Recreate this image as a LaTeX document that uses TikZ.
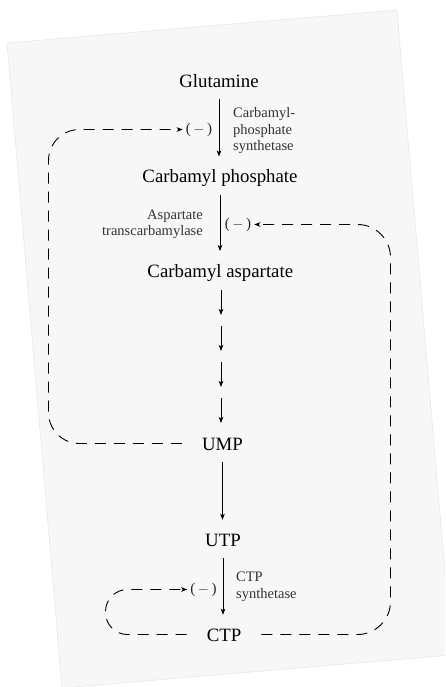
\documentclass[tikz,border=0pt]{standalone}
\usepackage{fontspec}
\setmainfont{Liberation Serif}
\usetikzlibrary{arrows.meta}
\tikzset{
  page/.style={fill=black!3, draw=black!10, line width=0.5pt},
  cmpd/.style={inner sep=0pt, text height=13pt, text depth=0pt, font=\fontsize{18.8}{20}\selectfont},
  enz/.style={inner sep=0pt, black!80, font=\fontsize{14.5}{16.5}\selectfont},
  inh/.style={inner ysep=1pt, inner xsep=3pt, black!85, font=\fontsize{15}{16}\selectfont},
  tip/.style={-{Stealth[length=6pt, width=4.5pt, inset=1.5pt]}},
  reac/.style={tip, line width=0.9pt, shorten <=12pt, shorten >=13pt},
  fb/.style={tip, line width=0.9pt, dash pattern=on 11pt off 8pt, rounded corners=31pt, shorten <=20pt},
}

\begin{document}
\begin{tikzpicture}[x=1pt, y=-1pt]
\useasboundingbox (0,0) rectangle (445,687);
\clip (0,0) rectangle (445,687);
\draw[page] (7,43) -- (397,10) -- (452,655) -- (62,688) -- cycle;

\node[cmpd, anchor=base] (glu) at (219,87.3) {Glutamine};
\node[cmpd, anchor=base] (cp)  at (220,182.7) {Carbamyl phosphate};
\node[cmpd, anchor=base] (ca)  at (220.3,277.3) {Carbamyl aspartate};
\node[cmpd, anchor=base] (ump) at (222.5,450) {UMP};
\node[cmpd, anchor=base] (utp) at (223,546) {UTP};
\node[cmpd, anchor=base] (ctp) at (224,641) {CTP};

\node[enz, anchor=west, align=left]  (cps) at (233,131) {Carbamyl-\\phosphate\\synthetase};
\node[enz, anchor=east, align=right] (atc) at (203,224.5) {Aspartate\\transcarbamylase};
\node[enz, anchor=west, align=left]  (ctps) at (236,587) {CTP\\synthetase};

\node[inh] (inh1) at (199,129.5) {(\,$-$\,)};
\node[inh] (inh2) at (238,224.5) {(\,$-$\,)};
\node[inh] (inh3) at (203.5,589.5) {(\,$-$\,)};

\draw[reac] (glu.south) -- (glu.south |- cp.north);
\draw[reac] (cp.south) -- (cp.south |- ca.north);
\foreach \i in {0,...,4} \coordinate (t\i) at (221,290+36*\i);
\foreach \i/\j in {0/1,1/2,2/3,3/4} \draw[reac, shorten <=0pt, shorten >=11pt] (t\i) -- (t\j);
\draw[reac] (ump.south) -- (ump.south |- utp.north);
\draw[reac] (utp.south) -- (utp.south |- ctp.north);

\coordinate (lft) at (48.5,0);
\coordinate (rgt) at (390.5,0);
\coordinate (lp) at (105.5,0);
\draw[fb] (ump.west) -- (ump.west -| lft) -- (lft |- inh1.west) -- (inh1.west);
\draw[fb, rounded corners=33pt] (ctp.east) -- (ctp.east -| rgt) -- (rgt |- inh2.east) -- (inh2.east);
\draw[fb, rounded corners=22pt] (ctp.west) -- (ctp.west -| lp) -- (lp |- inh3.west) -- (inh3.west);
\end{tikzpicture}
\end{document}
